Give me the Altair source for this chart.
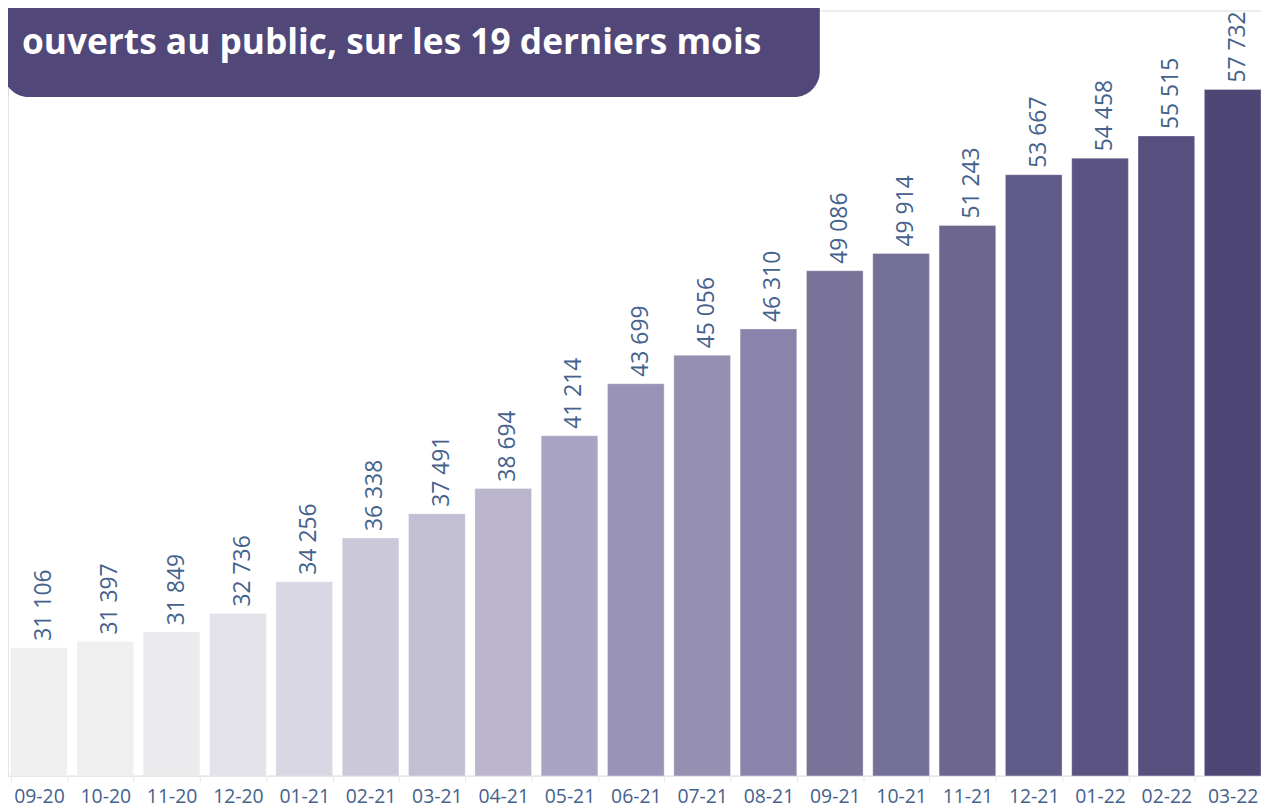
import altair as alt
import pandas as pd

months = ["09-20", "10-20", "11-20", "12-20", "01-21", "02-21", "03-21", "04-21",
          "05-21", "06-21", "07-21", "08-21", "09-21", "10-21", "11-21", "12-21",
          "01-22", "02-22", "03-22"]
values = [31106, 31397, 31849, 32736, 34256, 36338, 37491, 38694, 41214, 43699,
          45056, 46310, 49086, 49914, 51243, 53667, 54458, 55515, 57732]
bar_colors = ["#F0F0F0", "#EFEFEF", "#EBEBED", "#E3E2EA", "#D9D7E3", "#CBC8DA",
              "#C2BFD5", "#BAB5CD", "#A9A4C3", "#9A93B8", "#958FB2", "#8A84AC",
              "#7A7399", "#757098", "#6D668F", "#615B89", "#5B5482", "#57507F",
              "#4E4674"]
title_line = "ouverts au public, sur les 19 derniers mois"

df = pd.DataFrame({
    "mois": months,
    "valeur": values,
    "label": [f"{v:,}".replace(",", " ") for v in values],
})

W = 1261
H = 770
LABEL_COLOR = "#44628C"

x_scale = alt.Scale(domain=months, paddingInner=0.146, paddingOuter=0.02, align=1, round=False)

x_enc = alt.X(
    "mois:N", sort=months, scale=x_scale,
    axis=alt.Axis(title=None, labelAngle=0, labelFont="Open Sans", labelFontSize=19.5,
                  labelColor=LABEL_COLOR, domainColor="#E6E6E6", tickColor="#E6E6E6",
                  tickSize=6, tickBand="extent", labelPadding=6, grid=False),
)
y_enc = alt.Y(
    "valeur:Q",
    scale=alt.Scale(domain=[25000, 61500], nice=False, zero=False),
    axis=None,
)

bars = alt.Chart(df).mark_bar(clip=True, stroke="#FFFFFF", strokeWidth=0.5, strokeOpacity=0.6).encode(
    x=x_enc,
    y=y_enc,
    color=alt.Color("mois:N", sort=months,
                    scale=alt.Scale(domain=months, range=bar_colors), legend=None),
)

labels = alt.Chart(df).mark_text(
    angle=270, align="left", baseline="middle", dx=7, dy=5,
    font="Open Sans", fontSize=23, color=LABEL_COLOR,
).encode(x=x_enc, y=y_enc, text="label:N")

left_line = alt.Chart(pd.DataFrame({"t": [0]})).mark_rule(color="#EEEEEE").encode(
    x=alt.value(0), y=alt.value(87), y2=alt.value(H))

box = alt.Chart(pd.DataFrame({"t": [title_line]})).mark_rect(
    color="#514879", cornerRadiusBottomLeft=26, cornerRadiusBottomRight=26,
).encode(x=alt.value(-5), x2=alt.value(817), y=alt.value(-40), y2=alt.value(87))

box_text = alt.Chart(pd.DataFrame({"t": [title_line]})).mark_text(
    align="left", baseline="alphabetic", font="Open Sans", fontWeight="bold",
    fontSize=35.5, color="#FFFFFF",
).encode(x=alt.value(14), y=alt.value(44), text="t:N")

chart = alt.layer(left_line, bars, labels, box, box_text).properties(
    width=W, height=H,
    autosize=alt.AutoSizeParams(type="none"),
    padding={"left": 0, "top": 0, "right": 0, "bottom": 30},
).configure_view(strokeWidth=0, strokeOpacity=0).configure_scale(
    bandPaddingInner=0.146, bandPaddingOuter=0.02
).configure(background="#FFFFFF")

chart.save("out.html", embed_options={"renderer": "svg", "actions": False})
